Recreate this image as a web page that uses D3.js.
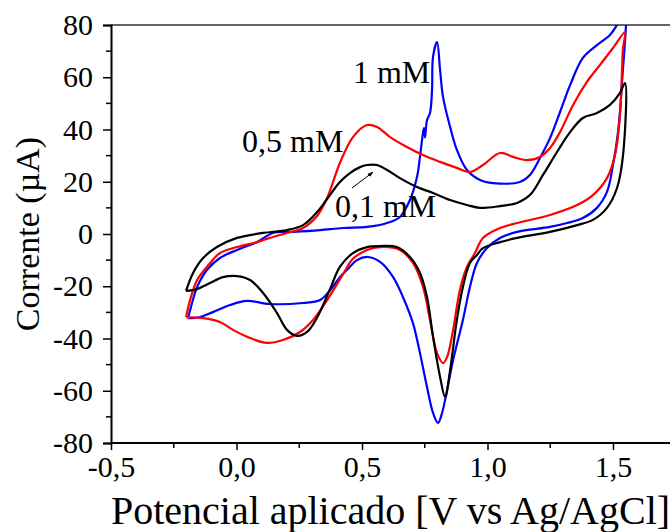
<!DOCTYPE html>
<html>
<head>
<meta charset="utf-8">
<script src="https://cdn.jsdelivr.net/npm/d3@7"></script>
<style>
  html, body { margin: 0; padding: 0; background: #fff; }
  svg { display: block; font-family: "Liberation Serif", "Times New Roman", serif; }
</style>
</head>
<body>
<div class="chart"></div>
<script>
// Cyclic voltammograms: [potential (V), current (µA)] in scan order
const cv01 = [ // 0,1 mM - black
  [-0.201, -21.8], [-0.173, -14.9], [-0.133, -9.2], [-0.078, -5.0], [0.002, -1.5],
  [0.106, 0.4], [0.201, 1.5], [0.265, 3.4], [0.321, 8.4], [0.361, 13.4],
  [0.412, 19.9], [0.452, 23.3], [0.492, 25.6], [0.520, 26.4], [0.560, 26.4],
  [0.600, 24.5], [0.651, 21.4], [0.719, 18.0], [0.783, 15.7], [0.851, 13.0],
  [0.918, 11.1], [0.970, 10.0], [1.050, 10.7], [1.118, 11.9], [1.169, 14.9],
  [1.221, 22.6], [1.277, 31.4], [1.329, 39.0], [1.380, 44.4], [1.436, 46.3],
  [1.488, 49.4], [1.528, 54.0], [1.548, 57.8],
  [1.540, 30.2], [1.516, 17.6], [1.476, 10.0], [1.420, 5.4], [1.357, 3.4],
  [1.249, 0.8], [1.118, -1.5], [1.050, -3.1], [0.982, -5.4], [0.958, -8.0],
  [0.930, -11.1], [0.902, -20.3], [0.878, -32.9], [0.851, -52.1], [0.831, -62.4],
  [0.811, -54.7], [0.783, -39.4], [0.759, -24.1], [0.731, -14.9], [0.691, -8.8],
  [0.639, -5.0], [0.572, -4.6], [0.520, -5.0], [0.464, -7.3], [0.412, -12.6],
  [0.373, -21.0], [0.321, -32.0], [0.281, -37.5], [0.241, -39.0], [0.201, -36.7],
  [0.161, -30.2], [0.106, -22.6], [0.054, -17.6], [0.002, -16.1], [-0.054, -16.5],
  [-0.106, -18.8], [-0.157, -21.1], [-0.201, -21.8]
];

const cv05 = [ // 0,5 mM - red
  [-0.201, -31.8], [-0.185, -25.3], [-0.157, -17.6], [-0.118, -12.6], [-0.066, -7.3],
  [0.002, -5.0], [0.082, -3.1], [0.133, -1.5], [0.201, 0.4], [0.265, 2.3],
  [0.321, 6.9], [0.361, 13.8], [0.412, 27.2], [0.464, 37.1], [0.520, 41.7],
  [0.560, 41.0], [0.612, 37.1], [0.679, 33.3], [0.743, 30.2], [0.811, 27.6],
  [0.878, 25.3], [0.930, 23.7], [0.982, 26.4], [1.050, 31.0], [1.102, 29.5],
  [1.157, 28.3], [1.209, 29.5], [1.249, 32.9], [1.289, 39.0], [1.341, 49.4],
  [1.396, 58.2], [1.448, 64.7], [1.500, 71.2], [1.548, 77.3],
  [1.540, 71.2], [1.528, 45.6], [1.508, 30.2], [1.476, 21.4], [1.420, 14.9],
  [1.357, 11.1], [1.249, 7.3], [1.118, 4.2], [1.050, 2.3], [0.982, -1.5],
  [0.950, -7.3], [0.918, -12.6], [0.890, -21.4], [0.863, -36.7], [0.839, -47.1],
  [0.823, -49.4], [0.799, -45.6], [0.771, -32.9], [0.743, -20.3], [0.703, -11.1],
  [0.651, -6.1], [0.572, -5.0], [0.520, -6.1], [0.464, -9.5], [0.424, -15.5],
  [0.361, -25.3], [0.305, -32.9], [0.253, -37.5], [0.185, -40.6], [0.122, -41.7],
  [0.054, -39.8], [-0.014, -36.7], [-0.066, -33.7], [-0.133, -32.2], [-0.201, -31.8]
];

const cv1 = [ // 1 mM - blue
  [-0.193, -32.2], [-0.177, -26.4], [-0.157, -20.3], [-0.118, -13.8], [-0.066, -9.2],
  [0.002, -6.1], [0.082, -3.1], [0.145, 0.4], [0.225, 0.8], [0.333, 1.5],
  [0.424, 2.3], [0.520, 2.7], [0.600, 4.2], [0.651, 6.5], [0.691, 13.0],
  [0.719, 21.8], [0.731, 29.5], [0.743, 38.7], [0.747, 40.5], [0.751, 37.0],
  [0.759, 43.6], [0.771, 46.3], [0.779, 55.1], [0.783, 67.8], [0.799, 73.5],
  [0.811, 62.8], [0.823, 52.4], [0.851, 41.0], [0.878, 32.2], [0.918, 24.5],
  [0.970, 20.7], [1.022, 19.5], [1.129, 19.9], [1.169, 22.6], [1.209, 29.1],
  [1.249, 36.7], [1.289, 46.7], [1.329, 57.0], [1.380, 67.4], [1.436, 72.3],
  [1.488, 76.2], [1.516, 80.0], [1.548, 86.0],
  [1.536, 58.2], [1.520, 39.0], [1.500, 26.4], [1.476, 16.1], [1.436, 10.0],
  [1.380, 6.1], [1.317, 4.2], [1.249, 2.7], [1.118, 0.8], [1.050, -1.5],
  [0.998, -5.4], [0.958, -11.1], [0.930, -20.3], [0.902, -32.9], [0.863, -48.2],
  [0.839, -59.7], [0.819, -68.5], [0.803, -72.3], [0.783, -68.5], [0.759, -58.6],
  [0.731, -45.6], [0.703, -34.1], [0.663, -24.1], [0.624, -16.5], [0.572, -10.7],
  [0.524, -8.8], [0.480, -10.0], [0.440, -13.8], [0.412, -16.5], [0.373, -21.5],
  [0.333, -25.3], [0.265, -26.4], [0.133, -26.8], [0.042, -25.6], [-0.026, -27.2],
  [-0.094, -29.9], [-0.145, -31.8], [-0.193, -32.2]
];

const xTicks = [-0.5, 0, 0.5, 1, 1.5];
const xTickLabels = ["-0,5", "0,0", "0,5", "1,0", "1,5"];
const xMinor = [-0.25, 0.25, 0.75, 1.25];
const yTicks = [-80, -60, -40, -20, 0, 20, 40, 60, 80];
const yTickLabels = ["-80", "-60", "-40", "-20", "0", "20", "40", "60", "80"];
const yMinor = [-70, -50, -30, -10, 10, 30, 50, 70];

const series = [
  { name: "1 mM", data: cv1, color: "#0000ff", label: [0.464, 57.8] },
  { name: "0,5 mM", data: cv05, color: "#ff0000", label: [0.022, 31.4] },
  { name: "0,1 mM", data: cv01, color: "#000000", label: [0.392, 6.5] }
];

const width = 670, height = 532;
const mLeft = 111, mTop = 25, mBottom = 443;

const x = d3.scaleLinear().domain([-0.5, 1.75]).range([mLeft, mLeft + 2.25 * 251]);
const y = d3.scaleLinear().domain([-80, 80]).range([mBottom, mTop]);

const svg = d3.select(".chart").append("svg")
  .attr("width", width)
  .attr("height", height);

const defs = svg.append("defs");
defs.append("clipPath").attr("id", "plot")
  .append("rect").attr("x", mLeft).attr("y", mTop)
  .attr("width", width - mLeft).attr("height", mBottom - mTop);

defs.append("marker")
  .attr("id", "arrow")
  .attr("viewBox", "0 0 10 10")
  .attr("refX", 9).attr("refY", 5)
  .attr("markerWidth", 6).attr("markerHeight", 6)
  .attr("orient", "auto")
  .append("path").attr("d", "M0,1.5L10,5L0,8.5Z").attr("fill", "#000");

// top border
svg.append("line")
  .attr("x1", mLeft).attr("x2", width)
  .attr("y1", mTop).attr("y2", mTop)
  .attr("stroke", "#333").attr("stroke-width", 1.5);

// x axis
const xAxis = svg.append("g").attr("transform", `translate(0,${mBottom})`)
  .call(d3.axisBottom(x).tickValues(xTicks).tickSize(7).tickPadding(6)
    .tickFormat((d, i) => xTickLabels[i]));
xAxis.append("g").selectAll("line").data(xMinor).join("line")
  .attr("x1", d => x(d)).attr("x2", d => x(d))
  .attr("y1", 0).attr("y2", 5).attr("stroke", "#000").attr("stroke-width", 1.5);

// y axis
const yAxis = svg.append("g").attr("transform", `translate(${mLeft},0)`)
  .call(d3.axisLeft(y).tickValues(yTicks).tickSize(8).tickPadding(10)
    .tickFormat((d, i) => yTickLabels[i]));
yAxis.append("g").selectAll("line").data(yMinor).join("line")
  .attr("x1", 0).attr("x2", -5)
  .attr("y1", d => y(d)).attr("y2", d => y(d)).attr("stroke", "#000").attr("stroke-width", 1.5);

svg.selectAll(".domain").attr("stroke", "#000").attr("stroke-width", 2)
svg.selectAll(".tick line").attr("stroke", "#000").attr("stroke-width", 1.5)
svg.selectAll(".tick text")
  .attr("fill", "#000")
  .style("font-family", "'Liberation Serif', 'Times New Roman', serif")
  .style("font-size", "30px");
xAxis.select(".domain").attr("d", `M${mLeft},0H${width}`);

// curves
const line = d3.line()
  .x(d => x(d[0]))
  .y(d => y(d[1]))
  .curve(d3.curveCatmullRom.alpha(0.5));

svg.append("g").attr("clip-path", "url(#plot)")
  .selectAll("path")
  .data(series)
  .join("path")
    .attr("d", d => line(d.data))
    .attr("fill", "none")
    .attr("stroke", d => d.color)
    .attr("stroke-width", 2.2)
    .attr("stroke-linejoin", "round");

// curve labels
svg.append("g").selectAll("text")
  .data(series)
  .join("text")
    .attr("x", d => x(d.label[0]))
    .attr("y", d => y(d.label[1]))
    .style("font-size", "32px")
    .text(d => d.name);

// arrow pointing at the 0,1 mM peak
svg.append("line")
  .attr("x1", x(0.460)).attr("y1", y(17.6))
  .attr("x2", x(0.544)).attr("y2", y(23.7))
  .attr("stroke", "#000").attr("stroke-width", 1)
  .attr("marker-end", "url(#arrow)");

// axis titles
svg.append("text")
  .attr("x", (mLeft + width) / 2)
  .attr("y", 524)
  .attr("text-anchor", "middle")
  .style("font-size", "40px")
  .text("Potencial aplicado [V vs Ag/AgCl]");

svg.append("text")
  .attr("transform", `translate(39,${y(0)}) rotate(-90)`)
  .attr("text-anchor", "middle")
  .style("font-size", "34px")
  .text("Corrente (µA)");
</script>
</body>
</html>
